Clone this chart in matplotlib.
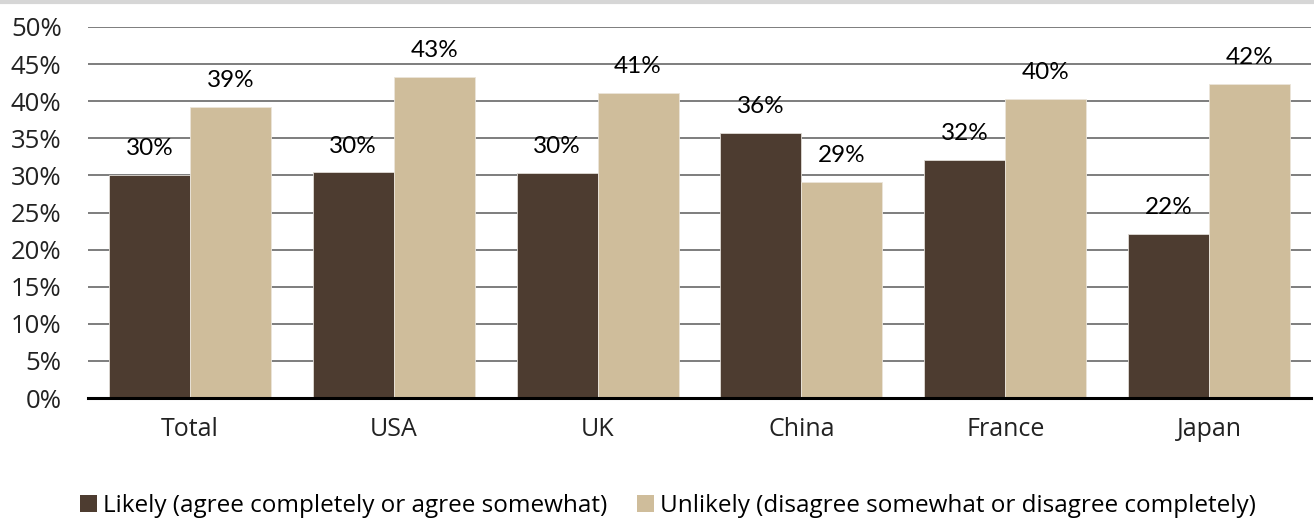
import matplotlib
matplotlib.use("Agg")
import matplotlib.pyplot as plt
import numpy as np
from matplotlib.patches import Patch
from matplotlib.lines import Line2D

categories = ["Total", "USA", "UK", "China", "France", "Japan"]
likely = [30.1, 30.4, 30.3, 35.7, 32.1, 22.1]
unlikely = [39.2, 43.3, 41.1, 29.1, 40.3, 42.3]
series_names = ["Likely (agree completely or agree somewhat)",
                "Unlikely (disagree somewhat or disagree completely)"]
yticks = [0, 5, 10, 15, 20, 25, 30, 35, 40, 45, 50]

dark = "#4d3c30"
tan = "#cfbd9b"
font = "Open Sans"
label_font = "Lato"

fig = plt.figure(figsize=(13.14, 5.21), dpi=100)
ax = fig.add_axes([88 / 1314, 1 - 398 / 521, (1311 - 88) / 1314, (398 - 27) / 521])

x = np.arange(len(categories))
w = 0.397
b1 = ax.bar(x - w / 2, likely, w, color=dark, edgecolor="#e0dcd6", linewidth=0.6, zorder=3)
b2 = ax.bar(x + w / 2, unlikely, w, color=tan, edgecolor="#ebe5da", linewidth=0.6, zorder=3)

for bars, vals in ((b1, likely), (b2, unlikely)):
    for rect, v in zip(bars, vals):
        ax.annotate(f"{round(v):.0f}%", (rect.get_x() + rect.get_width() / 2, v),
                    xytext=(0, 19), textcoords="offset points", ha="center", va="center",
                    fontsize=17.5, family=label_font, color="black", zorder=4)

ax.set_xlim(-0.5, len(categories) - 0.5)
ax.set_ylim(0, 50)
ax.set_yticks(yticks)
ax.set_yticklabels([f"{t}%" for t in yticks], family=font, fontsize=18.5, color="#222222")
ax.set_xticks(x)
ax.set_xticklabels(categories, family=font, fontsize=18, color="#222222")
ax.tick_params(axis="both", length=0)
ax.tick_params(axis="y", pad=19)
ax.tick_params(axis="x", pad=14)
ax.yaxis.grid(True, color="#5a5a5a", linewidth=1.1, zorder=0)
ax.set_axisbelow(True)
for s in ("top", "right", "left"):
    ax.spines[s].set_visible(False)
ax.spines["bottom"].set_color("black")
ax.spines["bottom"].set_linewidth(2.2)
ax.spines["bottom"].set_zorder(5)

handles = [Patch(facecolor=dark, edgecolor="none"), Patch(facecolor=tan, edgecolor="none")]
fig.legend(handles, series_names, loc="center", bbox_to_anchor=(668 / 1314, 1 - 506 / 521),
           ncol=2, frameon=False, prop={"family": font, "size": 17.5},
           handlelength=0.7, handleheight=0.7, handletextpad=0.25, columnspacing=1.2)

fig.add_artist(Line2D([0, 1], [1 - 1.5 / 521, 1 - 1.5 / 521], transform=fig.transFigure,
                      color="#d6d6d6", linewidth=3))

fig.savefig("out.png", dpi=100)
